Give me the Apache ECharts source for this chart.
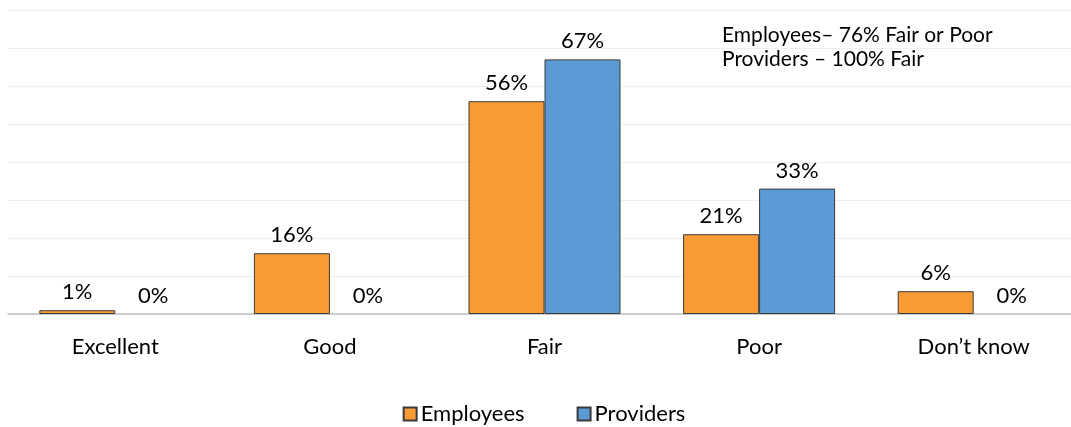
<!DOCTYPE html>
<html>
<head>
<meta charset="utf-8">
<script src="https://cdn.jsdelivr.net/npm/echarts@6/dist/echarts.min.js"></script>
<style>
  html, body { margin: 0; padding: 0; background: #ffffff; overflow: hidden; }
  #chart { width: 1088px; height: 427px; }
</style>
</head>
<body>
<div id="chart"></div>
<script>
// Survey ratings, percent of respondents
const categories = ['Excellent', 'Good', 'Fair', 'Poor', 'Don\u2019t know'];
const employees = [1, 16, 56, 21, 6];
const providers = [0, 0, 67, 33, 0];
const noteLines = ['Employees\u2013 76% Fair or Poor', 'Providers \u2013 100% Fair'];

const FONT = 'Lato, "Open Sans", sans-serif';

const chart = echarts.init(document.getElementById('chart'), null, { renderer: 'canvas' });

const valueLabel = {
  show: true,
  position: 'top',
  distance: 7,
  formatter: p => p.value + '%',
  fontFamily: FONT,
  fontSize: 22,
  color: '#000000'
};

// zero-height bars keep their label but draw no outline
const toBarData = arr => arr.map(v => (v === 0 ? { value: v, itemStyle: { borderWidth: 0 } } : v));

chart.setOption({
  animation: false,
  backgroundColor: '#ffffff',
  grid: { left: 8, top: 10, width: 1073, height: 304, containLabel: false },
  xAxis: {
    type: 'category',
    data: categories,
    axisLine: { show: true, lineStyle: { color: '#bfbfbf', width: 1.5 } },
    axisTick: { show: false },
    axisLabel: { margin: 22, fontFamily: FONT, fontSize: 22, color: '#000000' }
  },
  yAxis: {
    type: 'value',
    min: 0,
    max: 80,
    interval: 10,
    axisLine: { show: false },
    axisTick: { show: false },
    axisLabel: { show: false },
    splitLine: { show: true, lineStyle: { color: '#eeeeee', width: 1 } }
  },
  legend: {
    bottom: 0,
    left: 'center',
    padding: [5, 5, 2, 5],
    itemWidth: 13,
    itemHeight: 13,
    itemGap: 52,
    icon: 'rect',
    textStyle: { fontFamily: FONT, fontSize: 22, color: '#000000', padding: [0, 0, 0, -1] },
    data: ['Employees', 'Providers']
  },
  series: [
    {
      name: 'Employees',
      type: 'bar',
      data: toBarData(employees),
      barWidth: 76,
      barGap: '0%',
      itemStyle: { color: '#f99b34', borderColor: '#3a3a3a', borderWidth: 1 },
      label: valueLabel
    },
    {
      name: 'Providers',
      type: 'bar',
      data: toBarData(providers),
      barWidth: 76,
      barGap: '0%',
      itemStyle: { color: '#5b9bd5', borderColor: '#3a3a3a', borderWidth: 1 },
      label: valueLabel
    }
  ],
  graphic: noteLines.map((line, i) => ({
    type: 'text',
    left: 722,
    top: 25 + i * 24,
    style: { text: line, fontFamily: FONT, fontSize: 21, fill: '#000000' }
  }))
});
</script>
</body>
</html>
